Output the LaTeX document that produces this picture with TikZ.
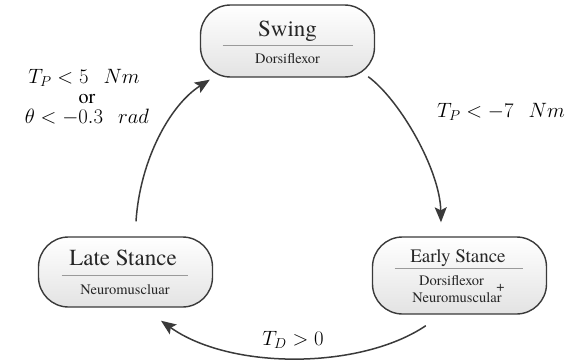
\documentclass[tikz,border=0pt]{standalone}
\usepackage{fontspec}
\setmainfont{texgyretermes}[Extension=.otf, UprightFont=*-regular, ItalicFont=*-italic, BoldFont=*-bold]
\usetikzlibrary{arrows.meta,calc}
\definecolor{edgec}{HTML}{3A3A3A}
\definecolor{divc}{HTML}{9A9A9A}
\tikzset{
  statebox/.style={draw=edgec, line width=1.4pt, rounded corners=30pt,
    top color=white, bottom color=black!11, minimum width=174pt, inner sep=0pt},
  titletxt/.style={inner sep=0pt, anchor=base, text=black!85},
  subtxt/.style={inner sep=0pt, anchor=base, font=\rmfamily\fontsize{14.5}{16}\selectfont, text=black!85},
  divider/.style={draw=divc, line width=0.8pt},
  trans/.style={draw=edgec, line width=1.5pt, -{Stealth[length=15pt,width=12pt,inset=3pt]}},
  mlabel/.style={inner sep=0pt, anchor=base, font=\fontsize{21.5}{24}\selectfont},
  ortxt/.style={inner sep=0pt, anchor=base, font=\rmfamily\fontsize{20}{24}\selectfont},
}
\begin{document}
\begin{tikzpicture}[x=1pt,y=-1pt]
\useasboundingbox (0,0) rectangle (584,364);
% boxes
\node[statebox, minimum height=72pt] (sw) at (287.5,41) {};
\node[statebox, minimum height=70pt] (lt) at (125.5,272) {};
\node[statebox, minimum height=77pt] (es) at (459.5,275.5) {};
% texts
\node[titletxt, font=\rmfamily\fontsize{23}{26}\selectfont] (swt) at (287.5,36) {Swing};
\draw[divider] ($(sw.center)+(-65,4)$) -- ($(sw.center)+(65,4)$);
\node[subtxt] (sws) at (287.5,63) {Dorsiflexor};
\node[titletxt, font=\rmfamily\fontsize{23}{26}\selectfont] (ltt) at (123,265) {Late Stance};
\draw[divider] ($(lt.center)+(-64,3)$) -- ($(lt.center)+(62,3)$);
\node[subtxt] (lts) at (125,294) {Neuromuscluar};
\node[titletxt, font=\rmfamily\fontsize{19}{22}\selectfont] (est) at (458,262) {Early Stance};
\draw[divider] ($(es.center)+(-65,-7.5)$) -- ($(es.center)+(63,-7.5)$);
\node[subtxt] (ess1) at (451.5,285) {Dorsiflexor};
\node[subtxt] (esp) at (500.5,291) {+};
\node[subtxt] (ess2) at (457,302) {Neuromuscular};
% transitions
\coordinate (a1s) at ($(lt.north)+(10.5,-15)$);
\coordinate (a2s) at ($(sw.south east)+(-7,-1)$);
\coordinate (a3s) at ($(es.south west)+(54,11)$);
\draw[trans] (a1s) .. controls (140,160) and (170,105) .. ($(sw.south west)+(10,2)$);
\draw[trans] (a2s) .. controls (400,100) and (440,170) .. ($(es.north)+(-18.5,-14)$);
\draw[trans] (a3s) .. controls (360,370) and (230,370) .. ($(lt.south)+(35.5,13)$);
% labels
\node[mlabel] (l1a) at (84,83) {$T_P < 5\;\;\,Nm$};
\node[ortxt] (l1b) at (87,103) {or};
\node[mlabel] (l1c) at (87,123) {$\theta < -0.3\;\;\,rad$};
\node[mlabel] (l2) at (501,117) {$T_P < -7\;\;\,Nm$};
\node[mlabel] (l3) at (293,345) {$T_D > 0$};
\end{tikzpicture}
\end{document}
